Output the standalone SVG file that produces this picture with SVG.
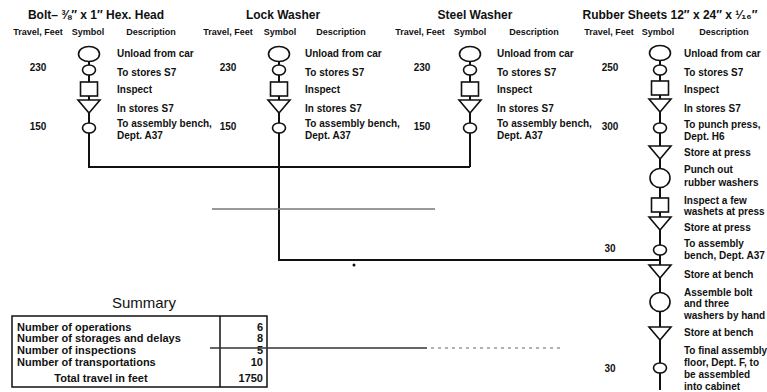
<svg xmlns="http://www.w3.org/2000/svg" xmlns:xlink="http://www.w3.org/1999/xlink" width="767" height="392" viewBox="0 0 767 392">
<style>
  .sym{fill:#fff;stroke:#111;stroke-width:1.6}
  .ln{stroke:#111;stroke-width:2;fill:none}
  text{font-family:"Liberation Sans",Arial,sans-serif;fill:#111}
  .d{font-size:10px;font-weight:bold}
  .n{font-size:10px;font-weight:bold;text-anchor:middle}
  .h{font-size:12px;font-weight:bold;text-anchor:middle}
  .sh{font-size:9px;font-weight:bold;text-anchor:middle}
  .s{font-size:11px;font-weight:bold}
  .v{font-size:11px;font-weight:bold;text-anchor:end}
  .art{stroke:#777;stroke-width:1.5}
</style>
<defs>
  <ellipse id="op" class="sym" cx="0" cy="0" rx="10.5" ry="7.5"/>
  <ellipse id="op2" class="sym" cx="0" cy="0" rx="10" ry="9.5"/>
  <ellipse id="tr" class="sym" cx="0" cy="0" rx="6.5" ry="5"/>
  <rect id="in" class="sym" x="-8.5" y="-7" width="17" height="14"/>
  <polygon id="st" class="sym" points="-11,0 11,0 0,13"/>
</defs>
<rect width="767" height="392" fill="#fff"/>

<g id="connectors">
  <path class="ln" d="M89,54 V167 H470"/>
  <path class="ln" d="M470,54 V167"/>
  <path class="ln" d="M279,54 V260 H660"/>
  <path class="ln" d="M660,52 V390"/>
</g>

<g id="headers">
  <text class="h" x="96" y="19">Bolt– ⅜″ x 1″ Hex. Head</text>
  <text class="h" x="283" y="19">Lock Washer</text>
  <text class="h" x="475" y="19">Steel Washer</text>
  <text class="h" x="670" y="19">Rubber Sheets 12″ x 24″ x ¹⁄₁₆″</text>
  <text class="sh" x="38" y="35">Travel, Feet</text>
  <text class="sh" x="88" y="35">Symbol</text>
  <text class="sh" x="151" y="35">Description</text>
  <text class="sh" x="228" y="35">Travel, Feet</text>
  <text class="sh" x="280" y="35">Symbol</text>
  <text class="sh" x="341" y="35">Description</text>
  <text class="sh" x="420" y="35">Travel, Feet</text>
  <text class="sh" x="470" y="35">Symbol</text>
  <text class="sh" x="534" y="35">Description</text>
  <text class="sh" x="609" y="35">Travel, Feet</text>
  <text class="sh" x="658" y="35">Symbol</text>
  <text class="sh" x="724" y="35">Description</text>
</g>

<!-- Column 1: Bolt -->
<g id="bolt-unload"><use xlink:href="#op" x="89" y="54"/><text class="d" x="117" y="57">Unload from car</text></g>
<g id="bolt-to-stores"><use xlink:href="#tr" x="89" y="70"/><text class="n" x="38" y="71">230</text><text class="d" x="117" y="76">To stores S7</text></g>
<g id="bolt-inspect"><use xlink:href="#in" x="89" y="89"/><text class="d" x="117" y="93">Inspect</text></g>
<g id="bolt-in-stores"><use xlink:href="#st" x="89" y="100"/><text class="d" x="117" y="112">In stores S7</text></g>
<g id="bolt-to-bench"><use xlink:href="#tr" x="89" y="128"/><text class="n" x="38" y="130">150</text><text class="d" x="117" y="127">To assembly bench,</text><text class="d" x="117" y="139">Dept. A37</text></g>

<!-- Column 2: Lock Washer -->
<g id="lock-unload"><use xlink:href="#op" x="279" y="54"/><text class="d" x="305" y="57">Unload from car</text></g>
<g id="lock-to-stores"><use xlink:href="#tr" x="279" y="70"/><text class="n" x="228" y="71">230</text><text class="d" x="305" y="76">To stores S7</text></g>
<g id="lock-inspect"><use xlink:href="#in" x="279" y="89"/><text class="d" x="305" y="93">Inspect</text></g>
<g id="lock-in-stores"><use xlink:href="#st" x="279" y="100"/><text class="d" x="305" y="112">In stores S7</text></g>
<g id="lock-to-bench"><use xlink:href="#tr" x="279" y="128"/><text class="n" x="228" y="130">150</text><text class="d" x="305" y="127">To assembly bench,</text><text class="d" x="305" y="139">Dept. A37</text></g>

<!-- Column 3: Steel Washer -->
<g id="steel-unload"><use xlink:href="#op" x="470" y="54"/><text class="d" x="497" y="57">Unload from car</text></g>
<g id="steel-to-stores"><use xlink:href="#tr" x="470" y="70"/><text class="n" x="422" y="71">230</text><text class="d" x="497" y="76">To stores S7</text></g>
<g id="steel-inspect"><use xlink:href="#in" x="470" y="89"/><text class="d" x="497" y="93">Inspect</text></g>
<g id="steel-in-stores"><use xlink:href="#st" x="470" y="100"/><text class="d" x="497" y="112">In stores S7</text></g>
<g id="steel-to-bench"><use xlink:href="#tr" x="470" y="128"/><text class="n" x="422" y="130">150</text><text class="d" x="497" y="127">To assembly bench,</text><text class="d" x="497" y="139">Dept. A37</text></g>

<!-- Column 4: Rubber Sheets -->
<g id="rub-unload"><use xlink:href="#op" x="660" y="53"/><text class="d" x="684" y="57">Unload from car</text></g>
<g id="rub-to-stores"><use xlink:href="#tr" x="660" y="70"/><text class="n" x="610" y="71">250</text><text class="d" x="684" y="76">To stores S7</text></g>
<g id="rub-inspect"><use xlink:href="#in" x="660" y="88"/><text class="d" x="684" y="93">Inspect</text></g>
<g id="rub-in-stores"><use xlink:href="#st" x="660" y="99"/><text class="d" x="684" y="112">In stores S7</text></g>
<g id="rub-to-press"><use xlink:href="#tr" x="660" y="128"/><text class="n" x="610" y="130">300</text><text class="d" x="684" y="128">To punch press,</text><text class="d" x="684" y="140">Dept. H6</text></g>
<g id="rub-store-press"><use xlink:href="#st" x="660" y="146"/><text class="d" x="684" y="156">Store at press</text></g>
<g id="rub-punch"><use xlink:href="#op2" x="660" y="178"/><text class="d" x="684" y="173">Punch out</text><text class="d" x="684" y="186">rubber washers</text></g>
<g id="rub-inspect-few"><use xlink:href="#in" x="660" y="205"/><text class="d" x="684" y="204">Inspect a few</text><text class="d" x="684" y="215">washets at press</text></g>
<g id="rub-store-press2"><use xlink:href="#st" x="660" y="217"/><text class="d" x="684" y="231">Store at press</text></g>
<g id="rub-to-bench"><use xlink:href="#tr" x="660" y="250"/><text class="n" x="610" y="252">30</text><text class="d" x="684" y="247">To assembly</text><text class="d" x="684" y="259">bench, Dept. A37</text></g>
<g id="rub-store-bench"><use xlink:href="#st" x="660" y="265"/><text class="d" x="684" y="278">Store at bench</text></g>
<g id="rub-assemble"><use xlink:href="#op2" x="660" y="302"/><text class="d" x="684" y="296">Assemble bolt</text><text class="d" x="684" y="307">and three</text><text class="d" x="684" y="319">washers by hand</text></g>
<g id="rub-store-bench2"><use xlink:href="#st" x="660" y="327"/><text class="d" x="684" y="336">Store at bench</text></g>
<g id="rub-to-final"><use xlink:href="#tr" x="660" y="368"/><text class="n" x="610" y="372">30</text><text class="d" x="684" y="354">To final assembly</text><text class="d" x="684" y="366">floor, Dept. F, to</text><text class="d" x="684" y="378">be assembled</text><text class="d" x="684" y="390">into cabinet</text></g>

<!-- Summary -->
<g id="summary">
  <text x="144" y="308" font-size="15" text-anchor="middle">Summary</text>
  <rect x="12" y="316" width="255" height="71" fill="none" stroke="#111" stroke-width="1.5"/>
  <line x1="220" y1="316" x2="220" y2="387" stroke="#111" stroke-width="1.5"/>
  <text class="s" x="17" y="331">Number of operations</text>
  <text class="s" x="17" y="342">Number of storages and delays</text>
  <text class="s" x="17" y="354">Number of inspections</text>
  <text class="s" x="17" y="366">Number of transportations</text>
  <text class="s" x="101" y="382" text-anchor="middle">Total travel in feet</text>
  <text class="v" x="263" y="331">6</text>
  <text class="v" x="263" y="342">8</text>
  <text class="v" x="263" y="354">5</text>
  <text class="v" x="263" y="366">10</text>
  <text class="v" x="263" y="382">1750</text>
</g>

<!-- scan marks -->
<g id="marks">
  <line class="art" x1="212" y1="209" x2="435" y2="209"/>
  <line x1="210" y1="348" x2="427" y2="348" stroke="#333" stroke-width="1.5"/>
  <line x1="431" y1="348" x2="563" y2="348" stroke="#999" stroke-width="1.5" stroke-dasharray="3,4"/>
  <circle cx="354" cy="265" r="1.5" fill="#111"/>
</g>
</svg>
